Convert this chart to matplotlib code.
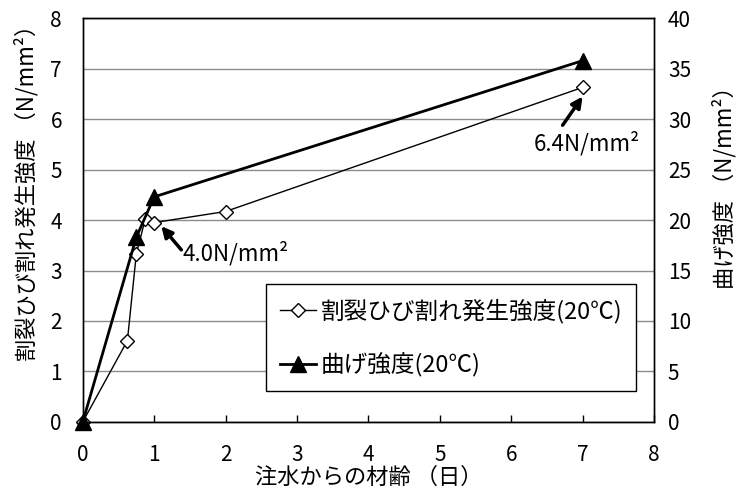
import matplotlib
matplotlib.use("Agg")
import matplotlib.pyplot as plt

plt.rcParams["font.family"] = ["Noto Sans CJK JP", "DejaVu Sans"]

# 割裂ひび割れ発生強度 (left axis, N/mm2)
split_age = [0, 0.625, 0.75, 0.875, 1, 2, 7]
split_val = [0, 1.61, 3.33, 4.02, 3.95, 4.17, 6.63]

# 曲げ強度 (right axis, N/mm2)
bend_age = [0, 0.75, 1, 7]
bend_val = [0, 18.3, 22.3, 35.8]

xticks = [0, 1, 2, 3, 4, 5, 6, 7, 8]
left_ticks = [0, 1, 2, 3, 4, 5, 6, 7, 8]
right_ticks = [0, 5, 10, 15, 20, 25, 30, 35, 40]

fig = plt.figure(figsize=(7.39, 4.94), dpi=100)
ax = fig.add_axes([0.112, 0.146, 0.773, 0.817])
ax2 = ax.twinx()

l1, = ax.plot(split_age, split_val, color="black", lw=1.0, marker="D",
              markersize=7, markerfacecolor="white", markeredgecolor="black",
              markeredgewidth=1.0, label="割裂ひび割れ発生強度(20℃)", clip_on=False, zorder=3)
l2, = ax2.plot(bend_age, bend_val, color="black", lw=2.0, marker="^",
               markersize=11, markerfacecolor="black", markeredgecolor="black",
               label="曲げ強度(20℃)", clip_on=False, zorder=4)

ax.set_xlim(0, 8)
ax.set_ylim(0, 8)
ax2.set_ylim(0, 40)
ax.set_xticks(xticks)
ax.set_yticks(left_ticks)
ax2.set_yticks(right_ticks)

ax.yaxis.grid(True, color="#8c8c8c", lw=1.0)
ax.set_axisbelow(True)
ax.tick_params(axis="x", direction="in", length=5, width=1, labelsize=15, pad=16)
ax.tick_params(axis="y", length=0, labelsize=15, pad=15)
ax2.tick_params(axis="y", length=0, labelsize=15, pad=10)
for sp in ax.spines.values():
    sp.set_linewidth(1.0)
for sp in ax2.spines.values():
    sp.set_linewidth(1.0)

ax.set_xlabel("注水からの材齢 （日）", fontsize=16, labelpad=0)
ax.set_ylabel("割裂ひび割れ発生強度 （N/mm²）", fontsize=16, rotation=90,
              ha="center", va="center")
ax2.set_ylabel("曲げ強度 （N/mm²）", fontsize=16, rotation=90,
               ha="center", va="center")
ax.yaxis.set_label_coords(-0.099, 0.58)
ax2.yaxis.set_label_coords(1.123, 0.594)

arrow = dict(arrowstyle="-|>", color="black", lw=2.5, mutation_scale=16, shrinkA=0, shrinkB=0)
ax.annotate("", xy=(1.10, 3.88), xytext=(1.38, 3.41), arrowprops=arrow)
ax.text(1.40, 3.34, "4.0N/mm²", fontsize=16, ha="left", va="center")
ax.annotate("", xy=(7.0, 6.45), xytext=(6.72, 5.88), arrowprops=arrow)
ax.text(7.06, 5.52, "6.4N/mm²", fontsize=16, ha="center", va="center")

leg = ax2.legend(handles=[l1, l2], loc="upper left", bbox_to_anchor=(0.321, 0.341),
                 fontsize=17, frameon=True, fancybox=False, edgecolor="black",
                 framealpha=1, labelspacing=1.25, borderpad=0.6, handlelength=1.5,
                 handletextpad=0.2, borderaxespad=0)
leg.get_frame().set_linewidth(1.0)

fig.savefig("out.png", dpi=100)
print("saved out.png")
